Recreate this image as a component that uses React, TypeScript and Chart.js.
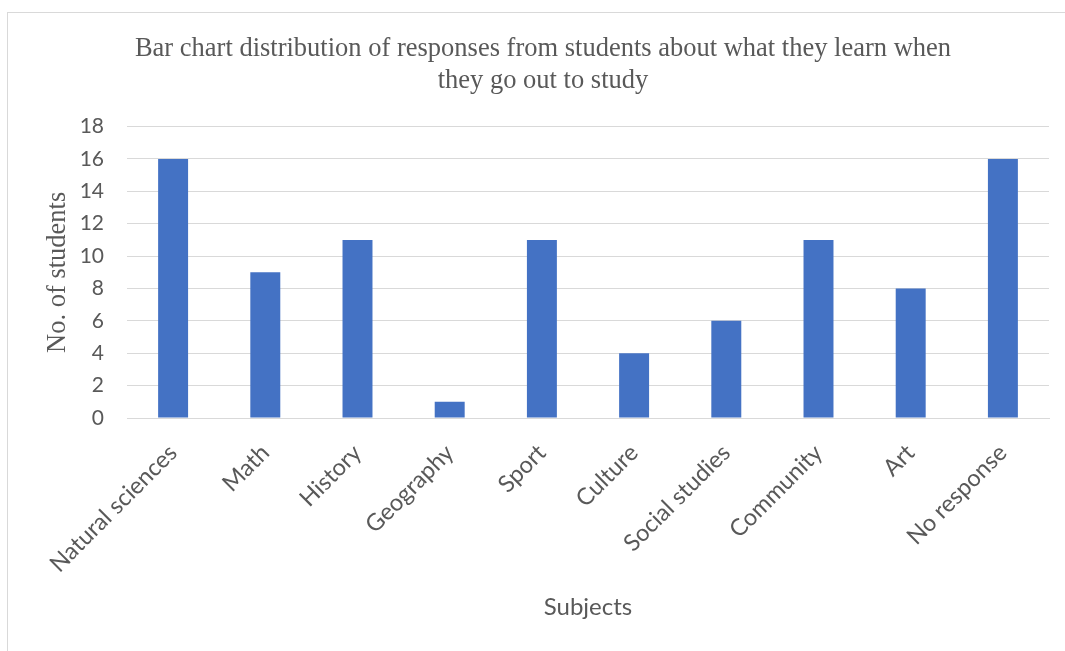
import React, { useEffect, useRef } from "react";
import { Chart, registerables } from "chart.js";

Chart.register(...registerables);

const categories = [
  "Natural sciences",
  "Math",
  "History",
  "Geography",
  "Sport",
  "Culture",
  "Social studies",
  "Community",
  "Art",
  "No response",
];
const studentCounts = [16, 9, 11, 1, 11, 4, 6, 11, 8, 16];
const titleLines = [
  "Bar chart distribution of responses from students about what they learn when",
  "they go out to study",
];
const yTitle = "No. of students";
const xTitle = "Subjects";

const TEXT = "#595959";
const GRID = "#d9d9d9";
const BAR = "#4472C4";
const SANS = "Lato, 'Liberation Sans', sans-serif";
const SERIF = "'Liberation Serif', 'Times New Roman', serif";

export default function App() {
  const ref = useRef<HTMLCanvasElement | null>(null);

  useEffect(() => {
    if (!ref.current) return;
    const chart = new Chart(ref.current, {
      type: "bar",
      data: {
        labels: categories,
        datasets: [
          {
            label: "Students",
            data: studentCounts,
            backgroundColor: BAR,
            borderWidth: 0,
            categoryPercentage: 1,
            barPercentage: 0.325,
          },
        ],
      },
      options: {
        responsive: false,
        animation: false,
        devicePixelRatio: 1,
        layout: { padding: { left: 29, right: 16, top: 0, bottom: 0 } },
        plugins: {
          legend: { display: false },
          tooltip: { enabled: false },
          title: {
            display: true,
            text: titleLines,
            color: TEXT,
            font: { family: SERIF, size: 26.5, weight: "normal", lineHeight: 1.2 },
            padding: { top: 20, bottom: 30 },
          },
        },
        scales: {
          x: {
            grid: { display: false },
            border: { display: true, color: GRID, width: 1 },
            ticks: {
              color: TEXT,
              font: { family: SANS, size: 23.5 },
              maxRotation: 45,
              minRotation: 45,
              autoSkip: false,
              padding: 13,
            },
            title: {
              display: true,
              text: xTitle,
              color: TEXT,
              font: { family: SANS, size: 24 },
              padding: { top: 0, bottom: 29 },
            },
            afterFit: (scale: any) => {
              scale.height = 233;
            },
          },
          y: {
            min: 0,
            max: 18,
            border: { display: false },
            grid: { color: GRID, lineWidth: 1, drawTicks: false },
            ticks: {
              stepSize: 2,
              color: TEXT,
              font: { family: SANS, size: 21 },
              padding: 23,
            },
            title: {
              display: true,
              text: yTitle,
              color: TEXT,
              font: { family: SERIF, size: 26.5, lineHeight: 1.2 },
              padding: { top: 5, bottom: 0 },
            },
            afterFit: (scale: any) => {
              scale.width = 90;
            },
          },
        },
      },
    });
    return () => chart.destroy();
  }, []);

  return (
    <div
      style={{
        position: "fixed",
        left: 0,
        top: 0,
        width: 1065,
        height: 651,
        overflow: "hidden",
        background: "#fff",
      }}
    >
      <div
        style={{
          position: "absolute",
          left: 7,
          top: 12,
          width: 1080,
          height: 660,
          border: `1px solid ${GRID}`,
          boxSizing: "border-box",
        }}
      >
        <canvas
          ref={ref}
          width={1057}
          height={638}
          style={{ position: "absolute", left: 0, top: 0, width: 1057, height: 638 }}
        />
      </div>
    </div>
  );
}
